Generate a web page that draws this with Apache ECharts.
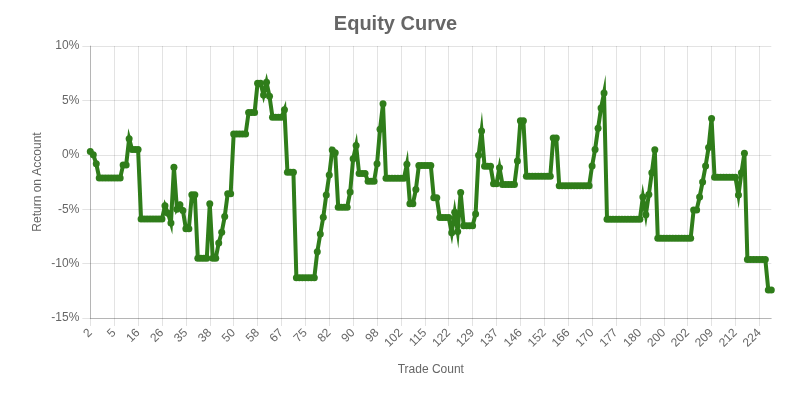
<!DOCTYPE html>
<html>
<head>
<meta charset="utf-8">
<script src="https://cdn.jsdelivr.net/npm/echarts@6/dist/echarts.min.js"></script>
<style>
html,body{margin:0;padding:0;background:#fff;}
#chart{width:791px;height:396px;}
</style>
</head>
<body>
<div id="chart"></div>
<script>
// Tick labels shown on the x axis (every 8th row)
const tickLabels = ['2','5','16','26','35','38','50','58','67','75','82','90','98','102','115','122','129','137','146','152','166','170','177','180','200','202','209','212','224'];

// Return on account (%) for each row of the equity curve
const returns = [
  0.3, 0.0, -0.83,
  -2.13, -2.13, -2.13, -2.13, -2.13, -2.13, -2.13, -2.13,
  -0.93, -0.93, 1.48, 0.49, 0.49, 0.49,
  -5.9, -5.9, -5.9, -5.9, -5.9, -5.9, -5.9, -5.9,
  -4.69, -5.37, -6.27, -1.14, -5.0, -4.6, -5.12, -6.79, -6.79, -3.67, -3.67,
  -9.5, -9.5, -9.5, -9.5, -4.5, -9.5, -9.5,
  -8.1, -7.13, -5.68, -3.58, -3.58,
  1.91, 1.91, 1.91, 1.91, 1.91,
  3.89, 3.89, 3.89, 6.57, 6.57, 5.49, 6.67, 5.37,
  3.46, 3.46, 3.46, 3.46, 4.14,
  -1.6, -1.6, -1.6,
  -11.3, -11.3, -11.3, -11.3, -11.3, -11.3, -11.3,
  -8.92, -7.28, -5.74, -3.7, -1.85, 0.43, 0.19,
  -4.81, -4.81, -4.81, -4.81, -3.43, -0.37, 0.86,
  -1.73, -1.73, -1.73, -2.44, -2.44, -2.44,
  -0.83, 2.35, 4.69,
  -2.16, -2.16, -2.16, -2.16, -2.16, -2.16, -2.16,
  -0.86, -4.5, -4.5, -3.2,
  -0.99, -0.99, -0.99, -0.99, -0.99,
  -3.95, -3.95, -5.77, -5.77, -5.77, -5.77,
  -7.16, -5.28, -7.04, -3.46,
  -6.51, -6.51, -6.51, -6.51, -5.43, -0.03, 2.19,
  -1.05, -1.05, -1.05, -2.65, -2.65, -1.2,
  -2.72, -2.72, -2.72, -2.72, -2.72, -0.56, 3.12, 3.12,
  -1.98, -1.98, -1.98, -1.98, -1.98, -1.98, -1.98, -1.98, -1.98,
  1.54, 1.54,
  -2.84, -2.84, -2.84, -2.84, -2.84, -2.84, -2.84, -2.84, -2.84, -2.84, -2.84,
  -1.03, 0.48, 2.43, 4.3, 5.69,
  -5.92, -5.92, -5.92, -5.92, -5.92, -5.92, -5.92, -5.92, -5.92, -5.92, -5.92, -5.92,
  -3.87, -5.51, -3.65, -1.64, 0.47,
  -7.68, -7.68, -7.68, -7.68, -7.68, -7.68, -7.68, -7.68, -7.68, -7.68, -7.68, -7.68,
  -5.07, -5.07, -3.88, -2.5, -1.03, 0.66, 3.33,
  -2.07, -2.07, -2.07, -2.07, -2.07, -2.07, -2.07, -2.07,
  -3.7, -1.65, 0.15,
  -9.62, -9.62, -9.62, -9.62, -9.62, -9.62, -9.62,
  -12.42, -12.42
];

const rows = returns.map((v, i) => String(i));

const chart = echarts.init(document.getElementById('chart'), null, {renderer: 'canvas'});
const gridColor = 'rgba(0,0,0,0.11)';
const font = '"Liberation Sans", Arial, Helvetica, sans-serif';
chart.setOption({
  animation: false,
  backgroundColor: '#fff',
  title: {
    text: 'Equity Curve',
    left: 'center',
    top: 9,
    textStyle: {fontFamily: font, fontSize: 20, fontWeight: 'bold', color: '#666'}
  },
  grid: {left: 90.3, right: 19.7, top: 46, bottom: 78, containLabel: false},
  xAxis: {
    type: 'category',
    data: rows,
    boundaryGap: false,
    name: 'Trade Count',
    nameLocation: 'middle',
    nameGap: 46,
    nameMoveOverlap: false,
    nameTextStyle: {fontFamily: font, fontSize: 12, color: '#666'},
    axisLine: {onZero: false, lineStyle: {color: 'rgba(0,0,0,0.2)', width: 1}},
    axisTick: {show: true, interval: 7, length: 8, lineStyle: {color: gridColor}},
    splitLine: {show: true, interval: 7, lineStyle: {color: gridColor, width: 1}},
    axisLabel: {
      interval: 7,
      rotate: 45,
      margin: 13,
      fontFamily: font,
      fontSize: 12,
      color: '#666',
      formatter: function (val, idx) { return tickLabels[Math.round(idx / 8)] || ''; }
    }
  },
  yAxis: {
    type: 'value',
    min: -15,
    max: 10,
    interval: 5,
    name: 'Return on Account',
    nameLocation: 'middle',
    nameGap: 47,
    nameMoveOverlap: false,
    nameTextStyle: {fontFamily: font, fontSize: 12, color: '#666'},
    axisLine: {show: true, lineStyle: {color: 'rgba(0,0,0,0.2)', width: 1}},
    axisTick: {show: true, length: 8, lineStyle: {color: gridColor}},
    splitLine: {show: true, lineStyle: {color: gridColor, width: 1}},
    axisLabel: {
      margin: 11,
      fontFamily: font,
      fontSize: 12,
      color: '#666',
      formatter: '{value}%'
    }
  },
  series: [{
    type: 'line',
    data: returns,
    showSymbol: true,
    showAllSymbol: true,
    symbol: 'circle',
    symbolSize: 7,
    itemStyle: {color: '#2f7d1a'},
    lineStyle: {color: '#2f7d1a', width: 4, join: 'miter', miterLimit: 10},
    z: 3
  }]
});
</script>
</body>
</html>
